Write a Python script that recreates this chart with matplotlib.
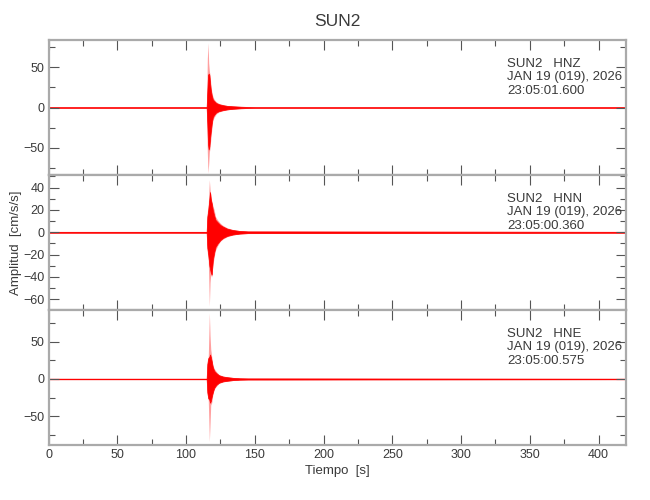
import numpy as np
import matplotlib
matplotlib.use("Agg")
import matplotlib.pyplot as plt
from matplotlib.ticker import MultipleLocator

plt.rcParams['font.family'] = ['Liberation Sans', 'DejaVu Sans']

# ---- data (envelopes of the records) ----
station = "SUN2"
channels = ["HNZ", "HNN", "HNE"]
start_times = ["23:05:01.600", "23:05:00.360", "23:05:00.575"]
date_label = "JAN 19 (019), 2026"

# HNZ
t_hnz = [0, 115.0, 115.5, 116.0, 116.5, 117.0, 117.5, 118.0, 118.7, 119.5, 120.5, 122.0, 124.0, 127.0, 130.0, 134.0, 140.0, 150.0, 420]
hnz_peak_up = [0.8, 0.8, 60, 80, 55, 45, 40, 30, 20, 14, 10, 7, 5, 3.5, 2.5, 2, 1.2, 0.8, 0.8]
hnz_peak_lo = [-0.8, -0.8, -55, -81, -70, -55, -50, -40, -28, -16, -12, -8, -5.5, -4, -3, -2, -1.2, -0.8, -0.8]
hnz_core_up = [0.4, 0.4, 20, 40, 42, 40, 30, 22, 15, 10, 8, 5.5, 4, 2.8, 2, 1.5, 1.0, 0.4, 0.4]
hnz_core_lo = [-0.4, -0.4, -20, -45, -52, -48, -38, -30, -20, -12, -9, -6, -4.5, -3.2, -2.3, -1.6, -1.0, -0.4, -0.4]

# HNN
t_hnn = [0, 115.0, 115.5, 116.2, 117.0, 117.5, 118.0, 118.7, 119.5, 120.5, 121.5, 123.0, 125.0, 127.0, 130.0, 134.0, 139.0, 145.0, 420]
hnn_peak_up = [0.8, 0.8, 18, 25, 47, 38, 34, 28, 24, 20, 14, 11, 8, 6, 4, 2.5, 1.5, 1.0, 0.8]
hnn_peak_lo = [-0.8, -0.8, -18, -25, -66, -45, -38, -40, -30, -22, -16, -12, -8, -6, -4, -2.5, -1.5, -1.0, -0.8]
hnn_core_up = [0.4, 0.4, 14, 20, 30, 36, 30, 26, 20, 15, 11, 9, 6.5, 5, 3.2, 2.0, 1.2, 0.8, 0.4]
hnn_core_lo = [-0.4, -0.4, -14, -20, -30, -33, -36, -38, -25, -18, -13, -10, -7, -5, -3.2, -2.0, -1.2, -0.8, -0.4]

# HNE
t_hne = [0, 115.0, 115.5, 116.2, 117.0, 117.5, 118.0, 118.7, 119.5, 120.5, 122.0, 124.0, 127.0, 130.0, 134.0, 139.0, 145.0, 420]
hne_peak_up = [0.8, 0.8, 25, 30, 89, 58, 40, 30, 19, 14, 10, 6, 4, 3, 2, 1.2, 0.9, 0.8]
hne_peak_lo = [-0.8, -0.8, -22, -28, -84, -60, -35, -32, -21, -14, -10, -6, -4, -3, -2, -1.2, -0.9, -0.8]
hne_core_up = [0.4, 0.4, 20, 28, 30, 33, 30, 24, 16, 11, 8, 5, 3.2, 2.4, 1.6, 1.0, 0.8, 0.4]
hne_core_lo = [-0.4, -0.4, -18, -26, -28, -32, -30, -24, -18, -12, -8, -5, -3.2, -2.4, -1.6, -1.0, -0.8, -0.4]

ylims = [(-83.5, 83.5), (-69.6, 51.3), (-89, 93)]
y_major = [50, 20, 50]
y_minor = [25, 10, 25]

records = [
    (t_hnz, hnz_peak_up, hnz_peak_lo, hnz_core_up, hnz_core_lo),
    (t_hnn, hnn_peak_up, hnn_peak_lo, hnn_core_up, hnn_core_lo),
    (t_hne, hne_peak_up, hne_peak_lo, hne_core_up, hne_core_lo),
]

# ---- figure ----
fig = plt.figure(figsize=(6.5, 5.0), dpi=100)
left, right = 48.5 / 650, 626 / 650
tops = [40, 175, 310]
height_px = 135
frame_col = '#aaaaaa'
tick_col = '#555555'
text_col = '#3a3a3a'

axes = []
for i in range(3):
    bottom = 1 - (tops[i] + height_px) / 500
    ax = fig.add_axes([left, bottom, right - left, height_px / 500])
    axes.append(ax)
    t, pu, pl, cu, cl = records[i]
    ax.fill_between(t, pl, pu, color='#ff4040', alpha=0.5, linewidth=0)
    ax.fill_between(t, cl, cu, facecolor='#ff0000', edgecolor='#ff0000', linewidth=0.5)
    ax.set_xlim(0, 420)
    ax.set_ylim(*ylims[i])
    ax.xaxis.set_major_locator(MultipleLocator(50))
    ax.xaxis.set_minor_locator(MultipleLocator(25))
    ax.yaxis.set_major_locator(MultipleLocator(y_major[i]))
    ax.yaxis.set_minor_locator(MultipleLocator(y_minor[i]))
    ax.tick_params(which='both', direction='in', top=True, right=True,
                   color=tick_col, labelcolor=text_col, labelsize=9, pad=3)
    ax.tick_params(which='major', length=7, width=0.8)
    ax.tick_params(which='minor', length=4, width=0.8)
    for sp in ax.spines.values():
        sp.set_color(frame_col)
        sp.set_linewidth(1.6)
    if i < 2:
        ax.tick_params(labelbottom=False)
    ax.text(0.794, 0.87, f"{station}   {channels[i]}\n{date_label}\n{start_times[i]}",
            transform=ax.transAxes, ha='left', va='top', fontsize=9.5,
            color=text_col, linespacing=1.2)

axes[2].set_xlabel("Tiempo  [s]", fontsize=9.5, color=text_col, labelpad=3)
axes[1].set_ylabel("Amplitud  [cm/s/s]", fontsize=9.5, color=text_col)
axes[1].yaxis.set_label_coords(-(48.5 - 22) / 577.5, 0.5)
fig.text((left + right) / 2, 1 - 22 / 500, station, ha='center', va='center',
         fontsize=12.5, color=text_col)

fig.savefig("out.png", dpi=100)
